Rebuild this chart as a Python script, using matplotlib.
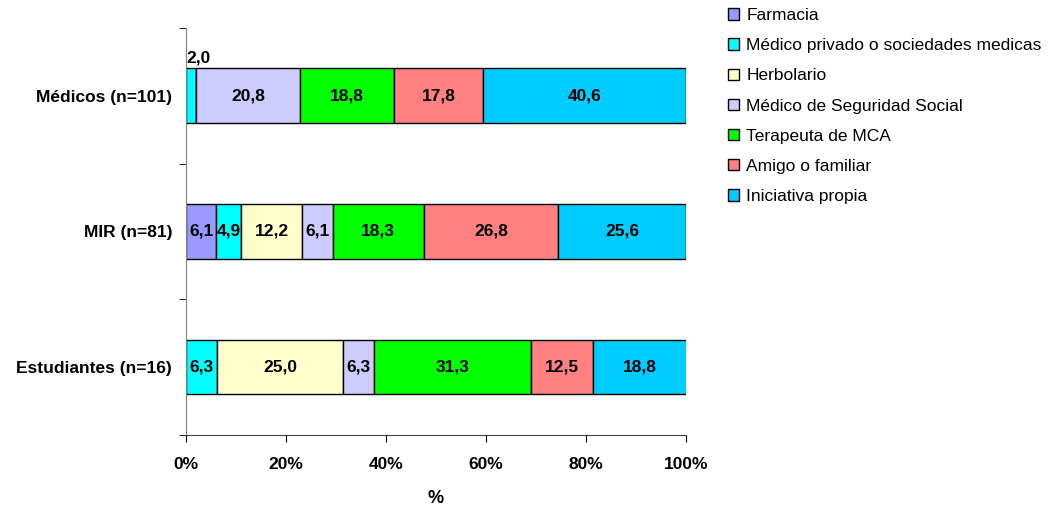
import matplotlib
matplotlib.use("Agg")
import matplotlib.pyplot as plt
import numpy as np

plt.rcParams['font.family'] = ['Liberation Sans', 'DejaVu Sans']

groups = ["Médicos (n=101)", "MIR (n=81)", "Estudiantes (n=16)"]
series = ["Farmacia", "Médico privado o sociedades medicas", "Herbolario",
          "Médico de Seguridad Social", "Terapeuta de MCA", "Amigo o familiar",
          "Iniciativa propia"]
medicos = [0, 2.0, 0, 20.8, 18.8, 17.8, 40.6]
mir = [6.1, 4.9, 12.2, 6.1, 18.3, 26.8, 25.6]
estudiantes = [0, 6.3, 25.0, 6.3, 31.3, 12.5, 18.8]
colors = ["#9999FF", "#00FFFF", "#FFFFCC", "#CCCCFF", "#00FF00", "#FF8080", "#00CCFF"]

data = np.array([medicos, mir, estudiantes])
ypos = np.array([2, 1, 0])

fig = plt.figure(figsize=(10.61, 5.11), dpi=100)
ax = fig.add_axes([0.1753, 0.1487, 0.4713, 0.797])

left = np.zeros(len(groups))
for j, name in enumerate(series):
    vals = data[:, j]
    ax.barh(ypos, vals, left=left, height=0.4, color=colors[j],
            edgecolor="black", linewidth=1, label=name)
    for i in range(len(groups)):
        v = vals[i]
        if v <= 0:
            continue
        txt = f"{v:.1f}".replace(".", ",")
        if v < 3:
            ax.text(left[i], ypos[i] + 0.22, txt, ha="left", va="bottom",
                    fontsize=12.5, fontweight="bold")
        else:
            ax.text(left[i] + v / 2, ypos[i], txt, ha="center", va="center",
                    fontsize=12.5, fontweight="bold")
    left = left + vals

ax.set_xlim(0, 100)
ax.set_ylim(-0.5, 2.5)
ax.set_xticks(np.arange(0, 101, 20))
ax.set_xticklabels([f"{t}%" for t in range(0, 101, 20)], fontsize=12.5, fontweight="bold")
ax.set_yticks(ypos)
ax.set_yticklabels(groups, fontsize=12.5, fontweight="bold")
ax.set_yticks([-0.5, 0.5, 1.5, 2.5], minor=True)
ax.tick_params(axis="y", which="major", length=0, pad=10)
ax.tick_params(axis="y", which="minor", length=5, direction="out")
ax.tick_params(axis="x", length=5, direction="out", pad=11)
ax.set_xlabel("%", fontsize=13, fontweight="bold", labelpad=13)
for s in ["top", "right"]:
    ax.spines[s].set_visible(False)
ax.spines["left"].set_color("#808080")
ax.spines["bottom"].set_color("#404040")

ax.legend(loc="upper left", bbox_to_anchor=(1.07, 1.065), frameon=False,
          fontsize=12.5, handlelength=0.65, handleheight=0.65, handletextpad=0.4,
          labelspacing=0.87, borderaxespad=0)

fig.savefig("out.png", dpi=100)
